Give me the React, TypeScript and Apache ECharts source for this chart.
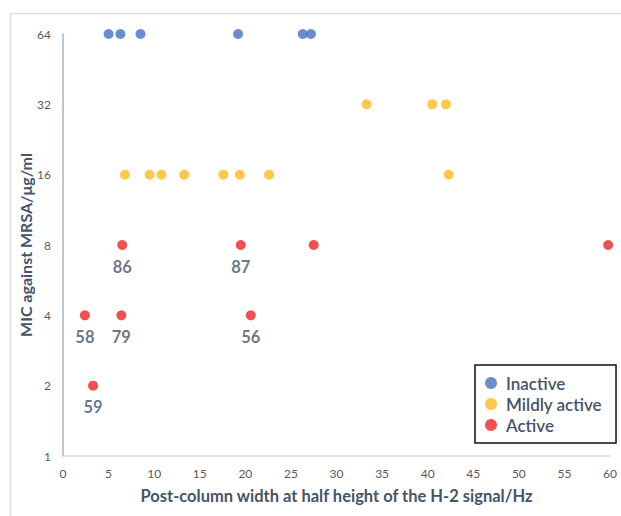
import React, { useEffect, useRef } from "react";
import * as echarts from "echarts";

const inactiveX = [5.0, 6.3, 8.5, 19.2, 26.3, 27.2];
const inactiveY = [64, 64, 64, 64, 64, 64];

const mildX = [6.8, 9.5, 10.8, 13.3, 17.6, 19.4, 22.6, 42.3, 33.3, 40.5, 42.0];
const mildY = [16, 16, 16, 16, 16, 16, 16, 16, 32, 32, 32];

const activeX = [6.5, 19.5, 27.5, 59.8, 2.4, 6.4, 20.6, 3.3];
const activeY = [8, 8, 8, 8, 4, 4, 4, 2];
const activeLabels = ["86", "87", "", "", "58", "79", "56", "59"];

const seriesNames = ["Inactive", "Mildly active", "Active"];
const seriesColors = ["#4472C4", "#FFBA1F", "#EC2424"];

const xTitle = "Post-column width at half height of the H-2 signal/Hz";
const yTitle = "MIC against MRSA/\u03bcg/ml";

const FONT = "Lato, 'Open Sans', sans-serif";

export default function App() {
  const ref = useRef<HTMLDivElement>(null);
  useEffect(() => {
    document.body.style.margin = "0";
    const chart = echarts.init(ref.current!, null, { renderer: "svg" });
    const pts = (xs: number[], ys: number[]) => xs.map((x, i) => [x, ys[i]]);
    chart.setOption({
      animation: false,
      textStyle: { fontFamily: FONT },
      graphic: [
        {
          type: "rect",
          shape: { x: 10.5, y: 13.5, width: 640, height: 540 },
          style: { fill: "none", stroke: "#DCDCE6", lineWidth: 1.5 },
          silent: true,
        },
      ],
      grid: { left: 63, right: 11, top: 34, bottom: 60 },
      legend: {
        left: 475,
        top: 365,
        orient: "vertical",
        data: seriesNames,
        icon: "circle",
        itemWidth: 12,
        itemHeight: 12,
        itemGap: 3,
        padding: [9, 14, 9, 10],
        borderColor: "#111",
        borderWidth: 1.5,
        backgroundColor: "#fff",
        textStyle: {
          fontFamily: FONT,
          fontSize: 17,
          lineHeight: 18,
          fontWeight: 600,
          color: "#44546A",
          padding: [0, 0, 0, 4],
        },
      },
      xAxis: {
        type: "value",
        min: 0,
        max: 60,
        interval: 5,
        name: xTitle,
        nameLocation: "middle",
        nameGap: 31,
        nameMoveOverlap: false,
        nameTextStyle: { fontFamily: FONT, fontSize: 16.5, fontWeight: "bold", color: "#44546A" },
        axisLine: { show: true, lineStyle: { color: "#D9D9E8", width: 1.5 } },
        axisTick: { show: false },
        splitLine: { show: false },
        axisLabel: { fontFamily: FONT, fontSize: 12, color: "#595959", margin: 11 },
      },
      yAxis: {
        type: "log",
        logBase: 2,
        min: 1,
        max: 64,
        interval: 1,
        name: yTitle,
        nameLocation: "middle",
        nameGap: 30,
        nameMoveOverlap: false,
        nameTextStyle: { fontFamily: FONT, fontSize: 16, fontWeight: "bold", color: "#44546A" },
        axisLine: { show: true, lineStyle: { color: "#A9B3C6", width: 1.5 } },
        axisTick: { show: false },
        splitLine: { show: false },
        axisLabel: { fontFamily: FONT, fontSize: 12, color: "#595959", margin: 12 },
      },
      series: [
        {
          name: seriesNames[0],
          type: "scatter",
          symbolSize: 10,
          itemStyle: { color: seriesColors[0] },
          data: pts(inactiveX, inactiveY),
        },
        {
          name: seriesNames[1],
          type: "scatter",
          symbolSize: 10,
          itemStyle: { color: seriesColors[1] },
          data: pts(mildX, mildY),
        },
        {
          name: seriesNames[2],
          type: "scatter",
          symbolSize: 10,
          itemStyle: { color: seriesColors[2] },
          data: activeX.map((x, i) => ({
            value: [x, activeY[i]],
            label: {
              show: activeLabels[i] !== "",
              formatter: activeLabels[i],
              position: "bottom",
              distance: 8,
              fontFamily: FONT,
              fontSize: 16.5,
              fontWeight: "bold",
              color: "#44546A",
            },
          })),
        },
      ],
    });
    return () => chart.dispose();
  }, []);
  return <div ref={ref} style={{ width: 621, height: 516 }} />;
}
